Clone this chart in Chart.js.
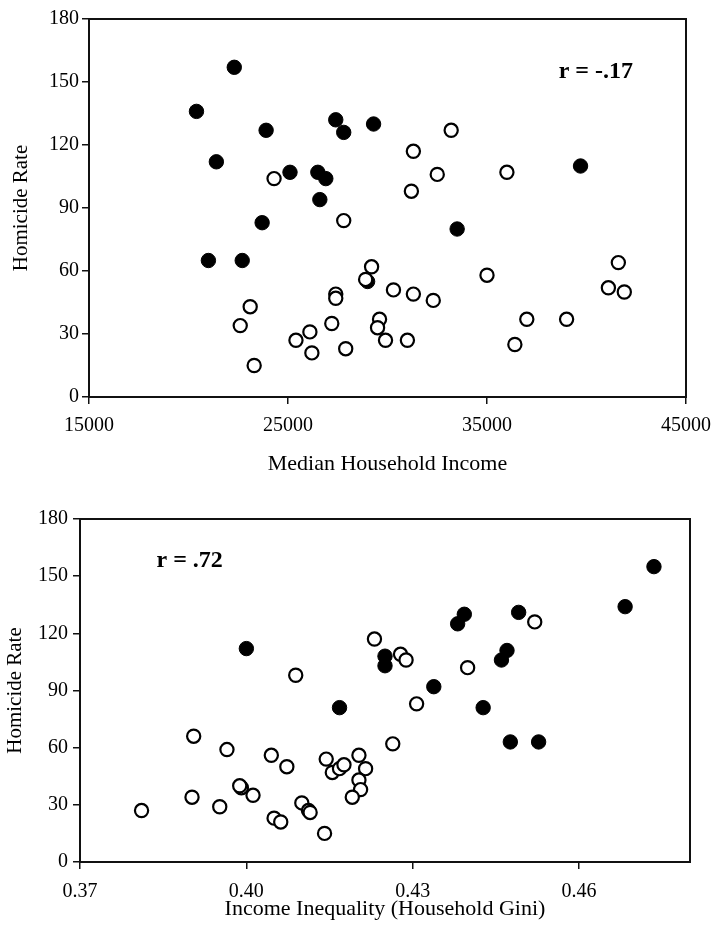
<!DOCTYPE html>
<html>
<head>
<meta charset="utf-8">
<script src="https://cdn.jsdelivr.net/npm/chart.js@4"></script>
<style>
  body { margin: 0; background: #fff; }
  .panel { position: absolute; left: 0; width: 713px; }
</style>
</head>
<body>
<div class="panel" style="top:0;height:475px"><canvas id="incomeChart" width="713" height="475"></canvas></div>
<div class="panel" style="top:475px;height:470px"><canvas id="giniChart" width="713" height="470"></canvas></div>
<script>
// Top panel: median household income vs homicide rate
const incomeFilledX = [22300, 20400, 23900, 21400, 25100, 26500, 26900, 26600, 23700, 27400, 27800, 29300, 39700, 33500, 21000, 22700, 29000];
const incomeFilledY = [157, 136, 127, 112, 107, 107, 104, 94, 83, 132, 126, 130, 110, 80, 65, 65, 55];
const incomeOpenX = [24300, 33200, 31300, 32500, 31200, 36000, 27800, 29200, 28900, 35000, 41600, 41100, 41900, 30300, 31300, 32300, 27400, 27400, 23100, 22600, 27200, 29600, 29500, 29900, 26100, 25400, 26200, 27900, 23300, 31000, 37000, 39000, 36400];
const incomeOpenY = [104, 127, 117, 106, 98, 107, 84, 62, 56, 58, 64, 52, 50, 51, 49, 46, 49, 47, 43, 34, 35, 37, 33, 27, 31, 27, 21, 23, 15, 27, 37, 37, 25];
const incomeTicks = [15000, 25000, 35000, 45000];

// Bottom panel: household Gini vs homicide rate
const giniFilledX = [0.4735, 0.4683, 0.400, 0.4491, 0.4393, 0.4381, 0.4470, 0.4460, 0.4250, 0.4250, 0.4338, 0.4168, 0.4427, 0.4476, 0.4527];
const giniFilledY = [155, 134, 112, 131, 130, 125, 111, 106, 108, 103, 92, 81, 81, 63, 63];
const giniOpenX = [0.4231, 0.4089, 0.4278, 0.4288, 0.4520, 0.4399, 0.4307, 0.4264, 0.3905, 0.3965, 0.4045, 0.4073, 0.4144, 0.4155, 0.4168, 0.4176, 0.4203, 0.4215, 0.4203, 0.4206, 0.4191, 0.3991, 0.3988, 0.4012, 0.3902, 0.3952, 0.3811, 0.4100, 0.4112, 0.4115, 0.4050, 0.4062, 0.4141];
const giniOpenY = [117, 98, 109, 106, 126, 102, 83, 62, 66, 59, 56, 50, 54, 47, 49, 51, 56, 49, 43, 38, 34, 39, 40, 35, 34, 29, 27, 31, 27, 26, 23, 21, 15];
const giniTicks = [0.37, 0.40, 0.43, 0.46];

const rateTicks = [0, 30, 60, 90, 120, 150, 180];

const serif = "'Liberation Serif', 'Times New Roman', serif";

function toPoints(xs, ys) {
  return xs.map((x, i) => ({ x: x, y: ys[i] }));
}

// draws the box around the plot and the r = ... note
const framePlugin = {
  id: "frame",
  afterDraw(chart, args, opts) {
    const { ctx, chartArea, scales } = chart;
    ctx.save();
    ctx.strokeStyle = "#111";
    ctx.lineWidth = 2;
    ctx.strokeRect(chartArea.left, chartArea.top, chartArea.right - chartArea.left, chartArea.bottom - chartArea.top);
    ctx.fillStyle = "#000";
    ctx.font = "bold 24px " + serif;
    ctx.textBaseline = "middle";
    ctx.fillText(opts.note, scales.x.getPixelForValue(opts.noteX), scales.y.getPixelForValue(opts.noteY));
    ctx.restore();
  },
};

function makeChart(id, s) {
  const ctx = document.getElementById(id).getContext("2d");
  return new Chart(ctx, {
    type: "scatter",
    data: {
      datasets: [
        {
          label: "open",
          data: toPoints(s.openX, s.openY),
          pointRadius: 6.6,
          pointBorderWidth: 2.2,
          pointBackgroundColor: "#fff",
          pointBorderColor: "#000",
        },
        {
          label: "filled",
          data: toPoints(s.filledX, s.filledY),
          pointRadius: 7.2,
          pointBorderWidth: 1,
          pointBackgroundColor: "#000",
          pointBorderColor: "#000",
        },
      ],
    },
    options: {
      responsive: false,
      animation: false,
      layout: { padding: { top: s.top, right: 713 - s.right, left: 0, bottom: 0 } },
      plugins: {
        legend: { display: false },
        tooltip: { enabled: false },
        frame: { note: s.note, noteX: s.noteX, noteY: s.noteY },
      },
      scales: {
        x: {
          type: "linear",
          min: s.xMin,
          max: s.xMax,
          afterBuildTicks: (scale) => {
            scale.ticks = s.xTicks.map((v) => ({ value: v }));
          },
          afterFit: (scale) => {
            scale.height = s.height - s.bottom;
            scale.paddingLeft = 0;
            scale.paddingRight = 0;
          },
          border: { display: true, color: "#111", width: 2 },
          grid: { drawOnChartArea: false, drawTicks: true, tickLength: 7, color: "#111", lineWidth: 1.5 },
          ticks: {
            color: "#000",
            font: { family: serif, size: 20 },
            padding: s.xTickPad,
            maxRotation: 0,
            callback: s.xFormat,
          },
          title: {
            display: true,
            text: s.xTitle,
            color: "#000",
            font: { family: serif, size: 22, lineHeight: 1 },
            padding: { top: 0, bottom: s.xTitlePad },
          },
        },
        y: {
          min: 0,
          max: 180,
          afterBuildTicks: (scale) => {
            scale.ticks = rateTicks.map((v) => ({ value: v }));
          },
          afterFit: (scale) => {
            scale.width = s.left;
            scale.paddingTop = 0;
            scale.paddingBottom = 0;
          },
          border: { display: true, color: "#111", width: 2 },
          grid: { drawOnChartArea: false, drawTicks: true, tickLength: 7, color: "#111", lineWidth: 1.5 },
          ticks: {
            color: "#000",
            font: { family: serif, size: 20 },
            padding: s.yTickPad,
          },
          title: {
            display: true,
            text: "Homicide Rate",
            color: "#000",
            font: { family: serif, size: 21, lineHeight: 1 },
            padding: { top: s.yTitlePad, bottom: 0 },
          },
        },
      },
    },
    plugins: [framePlugin],
  });
}

makeChart("incomeChart", {
  openX: incomeOpenX, openY: incomeOpenY,
  filledX: incomeFilledX, filledY: incomeFilledY,
  xMin: 15000, xMax: 45000, xTicks: incomeTicks,
  xFormat: (v) => String(v),
  xTitle: "Median Household Income",
  note: "r = -.17", noteX: 38600, noteY: 155,
  height: 475, left: 89, right: 686, top: 19, bottom: 397,
  xTickPad: 10, xTitlePad: 0, yTickPad: 3, yTitlePad: 11,
});

makeChart("giniChart", {
  openX: giniOpenX, openY: giniOpenY,
  filledX: giniFilledX, filledY: giniFilledY,
  xMin: 0.37, xMax: 0.48, xTicks: giniTicks,
  xFormat: (v) => v.toFixed(2),
  xTitle: "Income Inequality (Household Gini)",
  note: "r = .72", noteX: 0.3838, noteY: 158,
  height: 470, left: 80, right: 690, top: 44, bottom: 387,
  xTickPad: 11, xTitlePad: 25, yTickPad: 5, yTitlePad: 5,
});
</script>
</body>
</html>
